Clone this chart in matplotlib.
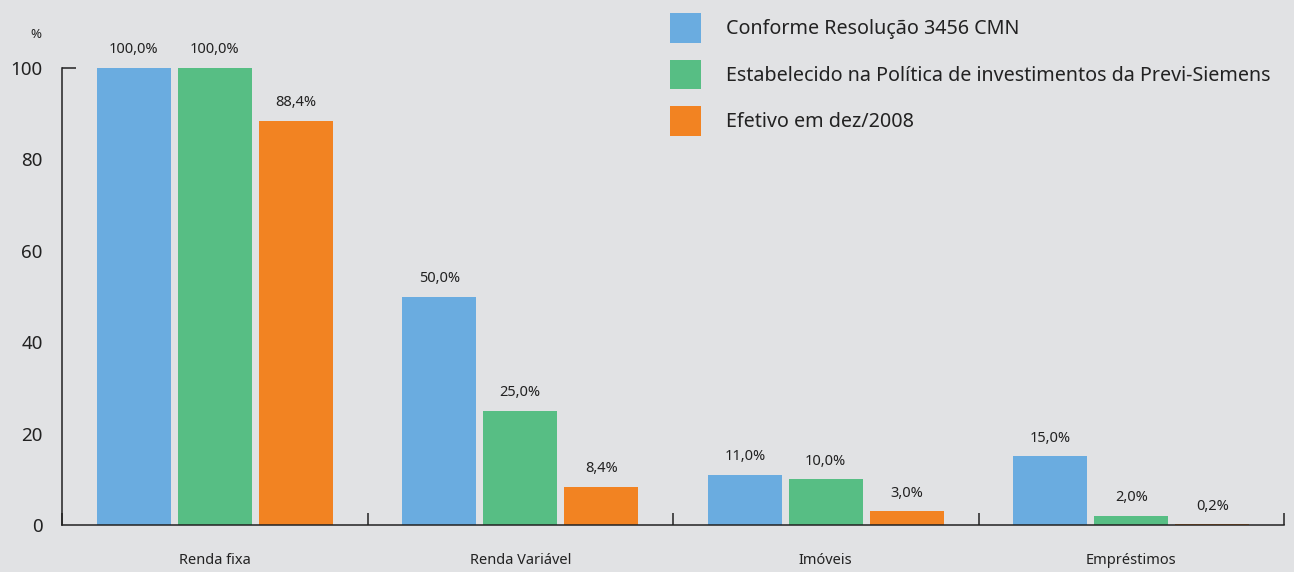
import numpy as np
import matplotlib.pyplot as plt
from matplotlib.patches import Patch

plt.rcParams['font.family'] = ['Noto Sans', 'DejaVu Sans']

categories = ["Renda fixa", "Renda Variável", "Imóveis", "Empréstimos"]
series_names = ["Conforme Resolução 3456 CMN",
                "Estabelecido na Política de investimentos da Previ-Siemens",
                "Efetivo em dez/2008"]
conforme = [100.0, 50.0, 11.0, 15.0]
estabelecido = [100.0, 25.0, 10.0, 2.0]
efetivo = [88.4, 8.4, 3.0, 0.2]
colors = ["#6aace0", "#57be84", "#f28322"]
bg = "#e1e2e4"

fig = plt.figure(figsize=(12.94, 5.72), dpi=100, facecolor=bg)
ax = fig.add_axes([62/1294, 47/572, 1222/1294, 457/572])
ax.set_facecolor(bg)

x = np.arange(len(categories))
width = 0.242
step = 0.265
for i, (vals, col) in enumerate(zip([conforme, estabelecido, efetivo], colors)):
    pos = x + (i - 1) * step
    ax.bar(pos, vals, width=width, color=col, zorder=2)
    for px, v in zip(pos, vals):
        ax.annotate(f"{v:.1f}%".replace(".", ","), (px, v), xytext=(0, 13),
                    textcoords="offset points", ha="center", va="center",
                    fontsize=10.5, color="#222222")

ax.set_xlim(-0.5, 3.5)
ax.set_ylim(0, 100)
for s in ["top", "right"]:
    ax.spines[s].set_visible(False)
for s in ["left", "bottom"]:
    ax.spines[s].set_linewidth(1.1)
    ax.spines[s].set_color("#222222")
    ax.spines[s].set_zorder(3)

ax.set_xticks(x)
ax.set_xticklabels(categories, fontsize=10.5, color="#222222")
ax.set_xticks(np.arange(-0.5, 4.0, 1.0), minor=True)
ax.tick_params(axis="x", which="major", length=0, pad=20)
ax.tick_params(axis="x", which="minor", direction="in", length=8.5, width=1.1, color="#222222")

# cap tick at the top of the y axis
ax.yaxis.remove_overlapping_locs = False
ax.set_yticks([0, 20, 40, 60, 80, 100])
ax.set_yticks([100], minor=True)
ax.tick_params(axis="y", which="major", length=0, pad=14, labelsize=13.5, labelcolor="#222222")
ax.tick_params(axis="y", which="minor", direction="in", length=10, width=1.1, color="#222222")

fig.text(36/1294, 1 - 35/572, "%", ha="center", va="center", fontsize=9.5, color="#222222")

handles = [Patch(facecolor=c, edgecolor="none") for c in colors]
fig.legend(handles, series_names, loc="upper left",
           bbox_to_anchor=(670/1294, 1 - 13/572), frameon=False, borderpad=0,
           fontsize=14.2, handlelength=1.55, handleheight=1.95, handletextpad=1.3,
           labelspacing=0.85, borderaxespad=0, labelcolor="#222222")

fig.savefig("out.png", dpi=100, facecolor=bg)
